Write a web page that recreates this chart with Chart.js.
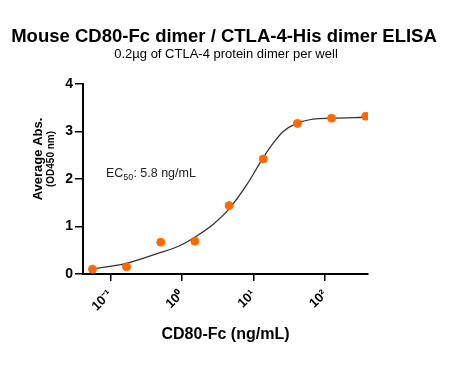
<!DOCTYPE html>
<html>
<head>
<meta charset="utf-8">
<script src="https://cdn.jsdelivr.net/npm/chart.js@4"></script>
<style>
  html, body { margin: 0; padding: 0; background: #fff; }
  #wrap { width: 454px; height: 368px; }
</style>
</head>
<body>
<div id="wrap"><canvas id="c" width="454" height="368"></canvas></div>
<script>
// measured points (ng/mL vs OD450)
const conc = [0.0564, 0.169, 0.507, 1.52, 4.57, 13.7, 41.1, 123.3, 370];
const absorb = [0.10, 0.15, 0.67, 0.69, 1.44, 2.42, 3.17, 3.28, 3.32];

// fitted curve
const fitX = [0.0556, 0.162, 0.472, 0.946, 1.57, 2.8, 4.57, 8.07, 13.7, 19.0, 26.1, 40.2, 68.4, 121, 380];
const fitY = [0.105, 0.22, 0.44, 0.60, 0.79, 1.06, 1.37, 1.88, 2.45, 2.76, 3.0, 3.17, 3.26, 3.28, 3.30];

const xTicks = [0.1, 1, 10, 100];
const xTickLabels = ['10\u207B\u00B9', '10\u2070', '10\u00B9', '10\u00B2'];
const yTicks = [0, 1, 2, 3, 4];

const FONT = '"Liberation Sans", Arial, sans-serif';

// titles and annotation drawn on the canvas
const textPlugin = {
  id: 'texts',
  afterDraw(chart) {
    const ctx = chart.ctx;
    ctx.save();
    ctx.fillStyle = '#000';
    ctx.textAlign = 'center';
    ctx.textBaseline = 'middle';
    ctx.font = 'bold 18.5px ' + FONT;
    ctx.fillText('Mouse CD80-Fc dimer / CTLA-4-His dimer ELISA', 224, 37);
    ctx.font = '13px ' + FONT;
    ctx.fillText('0.2\u00B5g of CTLA-4 protein dimer per well', 226, 54);

    // y title, two lines
    ctx.translate(38, 159);
    ctx.rotate(-Math.PI / 2);
    ctx.font = 'bold 13px ' + FONT;
    ctx.fillText('Average Abs.', 0, 0);
    ctx.font = 'bold 10px ' + FONT;
    ctx.fillText('(OD450 nm)', 0, 13.5);
    ctx.setTransform(1, 0, 0, 1, 0, 0);

    // EC50
    ctx.textAlign = 'left';
    ctx.textBaseline = 'alphabetic';
    ctx.fillStyle = '#222';
    let x = 106, y = 177;
    ctx.font = '12.5px ' + FONT;
    ctx.fillText('EC', x, y);
    x += ctx.measureText('EC').width;
    ctx.font = '9px ' + FONT;
    ctx.fillText('50', x, y + 3);
    x += ctx.measureText('50').width;
    ctx.font = '12.5px ' + FONT;
    ctx.fillText(': 5.8 ng/mL', x, y);
    ctx.restore();
  }
};

new Chart(document.getElementById('c'), {
  type: 'scatter',
  data: {
    datasets: [
      {
        label: 'data',
        data: conc.map((v, i) => ({ x: v, y: absorb[i] })),
        backgroundColor: '#FF6A00',
        borderColor: '#FF6A00',
        pointRadius: 4,
        order: 1
      },
      {
        label: 'fit',
        data: fitX.map((v, i) => ({ x: v, y: fitY[i] })),
        showLine: true,
        borderColor: '#333',
        borderWidth: 1.3,
        pointRadius: 0,
        cubicInterpolationMode: 'monotone',
        order: 2
      }
    ]
  },
  options: {
    responsive: false,
    animation: false,
    layout: { padding: { top: 84, right: 86, bottom: 0, left: 0 } },
    plugins: { legend: { display: false }, tooltip: { enabled: false } },
    scales: {
      x: {
        type: 'logarithmic',
        min: Math.pow(10, -1.381),
        max: Math.pow(10, 2.6),
        afterBuildTicks: s => { s.ticks = xTicks.map(v => ({ value: v })); },
        afterFit: s => { s.height = 94; },
        ticks: {
          color: '#000',
          font: { family: FONT, size: 13, weight: 'bold' },
          minRotation: 45,
          maxRotation: 45,
          padding: 6,
          callback: v => xTickLabels[xTicks.indexOf(v)]
        },
        grid: { drawOnChartArea: false, drawTicks: true, tickLength: 7, color: '#000', lineWidth: 1.5 },
        border: { color: '#000', width: 2 },
        title: {
          display: true,
          text: 'CD80-Fc (ng/mL)',
          color: '#000',
          font: { family: FONT, size: 16, weight: 'bold' },
          padding: { top: 4, bottom: 24 }
        }
      },
      y: {
        min: 0,
        max: 4,
        afterBuildTicks: s => { s.ticks = yTicks.map(v => ({ value: v })); },
        afterFit: s => { s.width = 83; },
        ticks: {
          color: '#000',
          font: { family: FONT, size: 14, weight: 'bold' },
          padding: 2
        },
        grid: { drawOnChartArea: false, drawTicks: true, tickLength: 8, color: '#000', lineWidth: 1.5 },
        border: { color: '#000', width: 2 }
      }
    }
  },
  plugins: [textPlugin]
});
</script>
</body>
</html>
